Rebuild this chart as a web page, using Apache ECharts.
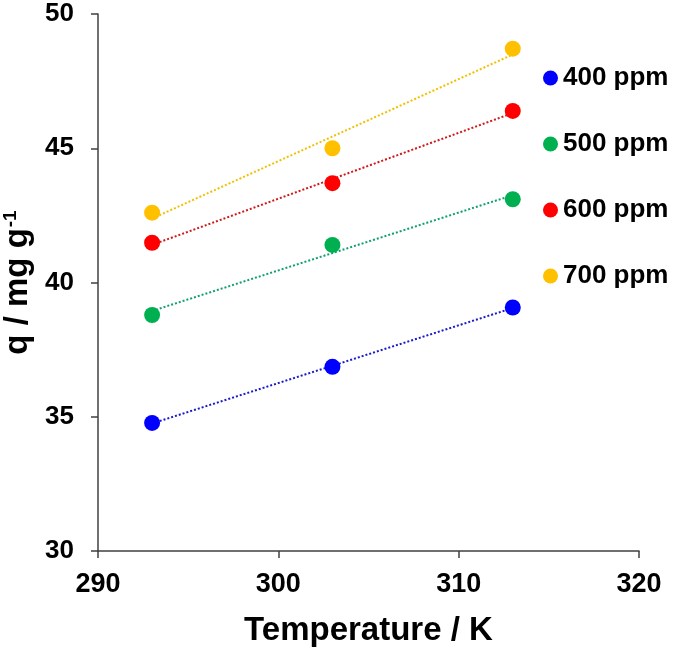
<!DOCTYPE html>
<html>
<head>
<meta charset="utf-8">
<script src="https://cdn.jsdelivr.net/npm/echarts@6/dist/echarts.min.js"></script>
<style>
html,body{margin:0;padding:0;background:#fff;}
#chart{width:685px;height:653px;}
</style>
</head>
<body>
<div id="chart"></div>
<script>
// ---- data ----
var temperatures = [293, 303, 313];
var seriesNames = ['400 ppm', '500 ppm', '600 ppm', '700 ppm'];
var q400 = [34.77, 36.86, 39.07];
var q500 = [38.79, 41.40, 43.10];
var q600 = [41.48, 43.70, 46.39];
var q700 = [42.60, 45.00, 48.71];
var xTicks = [290, 300, 310, 320];
var yTicks = [30, 35, 40, 45, 50];
var colors = ['#0000FF', '#00B050', '#FF0000', '#FFC000'];
var lineColors = ['#1a1acc', '#10a070', '#d01818', '#f0c000'];

var allQ = [q400, q500, q600, q700];
var FONT = "'Liberation Sans', Arial, sans-serif";

function fit(xs, ys) {
  var n = xs.length, mx = 0, my = 0;
  for (var i = 0; i < n; i++) { mx += xs[i]; my += ys[i]; }
  mx /= n; my /= n;
  var sxy = 0, sxx = 0;
  for (var j = 0; j < n; j++) { sxy += (xs[j]-mx)*(ys[j]-my); sxx += (xs[j]-mx)*(xs[j]-mx); }
  var b = sxy / sxx, a = my - b*mx;
  var x0 = xs[0], x1 = xs[n-1];
  return [[x0, a + b*x0], [x1, a + b*x1]];
}

var series = [];
allQ.forEach(function (qs, k) {
  series.push({
    type: 'line',
    data: fit(temperatures, qs),
    symbol: 'none',
    silent: true,
    z: 1,
    lineStyle: { color: lineColors[k], width: 2, type: [2, 2] }
  });
});
allQ.forEach(function (qs, k) {
  series.push({
    type: 'scatter',
    name: seriesNames[k],
    data: temperatures.map(function (t, i) { return [t, qs[i]]; }),
    symbol: 'circle',
    symbolSize: 16,
    z: 3,
    itemStyle: { color: colors[k], opacity: 1 }
  });
});

var chart = echarts.init(document.getElementById('chart'), null, { renderer: 'canvas' });
chart.setOption({
  animation: false,
  backgroundColor: '#ffffff',
  grid: { left: 98, right: 46, top: 14, bottom: 102, containLabel: false, outerBoundsMode: 'none' },
  legend: {
    data: seriesNames,
    orient: 'vertical',
    left: 543,
    top: 65,
    padding: 0,
    itemWidth: 15,
    itemHeight: 15,
    itemGap: 40,
    icon: 'circle',
    itemStyle: { opacity: 1 },
    textStyle: { fontFamily: FONT, fontSize: 26, fontWeight: 'bold', color: '#000', lineHeight: 26 }
  },
  xAxis: {
    type: 'value',
    min: xTicks[0],
    max: xTicks[xTicks.length - 1],
    interval: xTicks[1] - xTicks[0],
    name: 'Temperature / K',
    nameLocation: 'middle',
    nameGap: 63,
    nameTextStyle: { fontFamily: FONT, fontSize: 33, fontWeight: 'bold', color: '#000' },
    axisLine: { show: true, lineStyle: { color: '#404040', width: 1.5 } },
    axisTick: { show: true, inside: false, length: 7, lineStyle: { color: '#404040', width: 1.5 } },
    splitLine: { show: false },
    axisLabel: { fontFamily: FONT, fontSize: 27, fontWeight: 'bold', color: '#000', margin: 20 }
  },
  yAxis: {
    type: 'value',
    min: yTicks[0],
    max: yTicks[yTicks.length - 1],
    interval: yTicks[1] - yTicks[0],
    name: '{a|q / mg g}{b|-1}',
    nameLocation: 'middle',
    nameGap: 58,
    nameRotate: 90,
    nameTextStyle: {
      rich: {
        a: { fontFamily: FONT, fontSize: 33, fontWeight: 'bold', color: '#000' },
        b: { fontFamily: FONT, fontSize: 19, fontWeight: 'bold', color: '#000', verticalAlign: 'top', padding: [0, 0, 14, 1] }
      }
    },
    axisLine: { show: true, lineStyle: { color: '#404040', width: 1.5 } },
    axisTick: { show: true, inside: false, length: 7, lineStyle: { color: '#404040', width: 1.5 } },
    splitLine: { show: false },
    axisLabel: { fontFamily: FONT, fontSize: 26, fontWeight: 'bold', color: '#000', margin: 24 }
  },
  series: series
});
</script>
</body>
</html>
